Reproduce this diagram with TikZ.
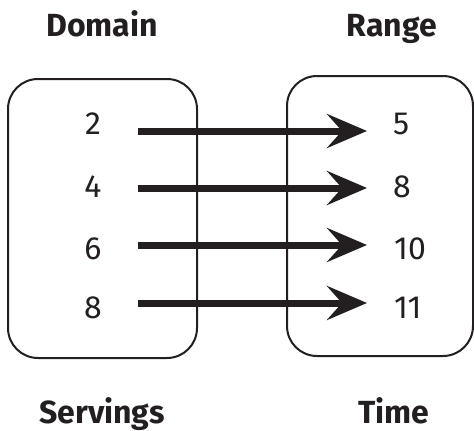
\documentclass[tikz,border=0pt]{standalone}
\usepackage{fontspec}
\setmainfont{Fira Sans}
\usetikzlibrary{arrows.meta}
\definecolor{ink}{RGB}{35,31,32}
\tikzset{
  setbox/.style={draw=ink, line width=2pt, rounded corners=30pt, inner sep=0pt, outer sep=0pt},
  title/.style={font=\fontsize{32}{36}\selectfont\bfseries, text=ink, anchor=base, inner sep=0pt},
  num/.style={font=\fontsize{32}{36}\selectfont, text=ink, anchor=base, inner sep=0pt},
  rnum/.style={num, anchor=base west},
  maparrow/.style={draw=ink, line width=7pt, -{Stealth[length=40pt, width=34pt, inset=15pt]}}
}
\begin{document}
\begin{tikzpicture}[x=1pt,y=-1pt]
\useasboundingbox (0,0) rectangle (474,431);
% boxes
\node[setbox, minimum width=189pt, minimum height=279pt] (dombox) at (102.5,218.5) {};
\node[setbox, minimum width=186pt, minimum height=280pt] (ranbox) at (380,216) {};
% titles
\node[title] (domain) at (102,36) {Domain};
\node[title] (range) at (392,36) {Range};
\node[title] (servings) at (102,423) {Servings};
\node[title] (time) at (394,423) {Time};
% domain numbers
\node[num] (d1) at (93,134) {2};
\node[num] (d2) at (93,197) {4};
\node[num] (d3) at (93,259) {6};
\node[num] (d4) at (93,318) {8};
% range numbers
\node[rnum] (r1) at (393,134) {5};
\node[rnum] (r2) at (393,197) {8};
\node[rnum] (r3) at (394,259) {10};
\node[rnum] (r4) at (394,318) {11};
% arrow endpoints
\coordinate (a1) at (138,131); \coordinate (b1) at (367,131);
\coordinate (a2) at (138,188); \coordinate (b2) at (367,188);
\coordinate (a3) at (138,245); \coordinate (b3) at (367,245);
\coordinate (a4) at (138,303); \coordinate (b4) at (367,303);
\draw[maparrow] (a1) -- (b1);
\draw[maparrow] (a2) -- (b2);
\draw[maparrow] (a3) -- (b3);
\draw[maparrow] (a4) -- (b4);
\end{tikzpicture}
\end{document}
